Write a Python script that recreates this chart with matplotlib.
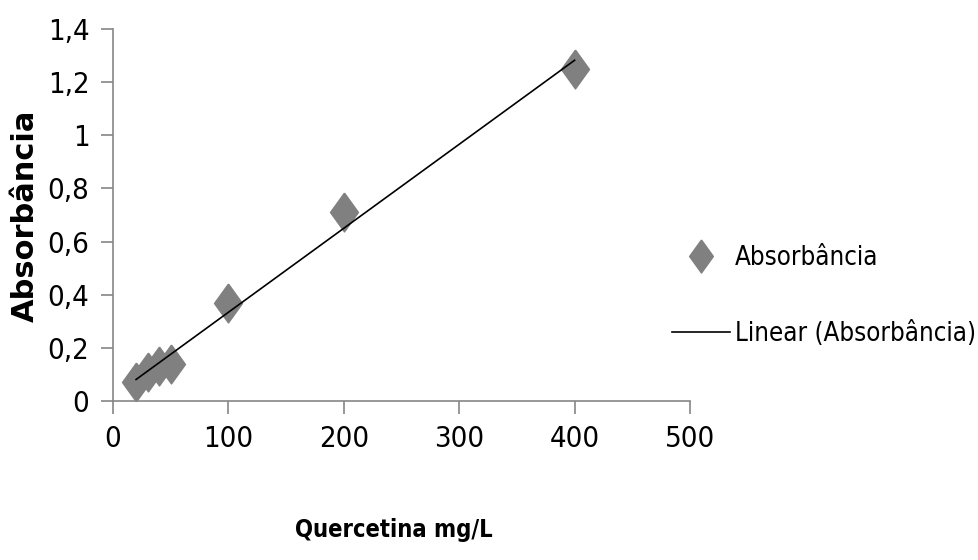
import numpy as np
import matplotlib.pyplot as plt

concentracao = [20, 30, 40, 50, 100, 200, 400]
absorbancia = [0.07, 0.11, 0.13, 0.14, 0.37, 0.71, 1.25]

x_ticks = [0, 100, 200, 300, 400, 500]
y_ticks = [0, 0.2, 0.4, 0.6, 0.8, 1.0, 1.2, 1.4]

plt.rcParams['font.family'] = ['DejaVu Sans']
plt.rcParams['font.stretch'] = 'condensed'

fig = plt.figure(figsize=(9.79, 5.6), dpi=100)
ax = fig.add_axes([0.1154, 0.2839, 0.5894, 0.6643])

losango = [(0, 1), (0.72, 0), (0, -1), (-0.72, 0), (0, 1)]

# linha de tendencia
a, b = np.polyfit(concentracao, absorbancia, 1)
xs = np.array([min(concentracao), max(concentracao)])
ax.plot(concentracao, absorbancia, linestyle='none', marker=losango, markersize=28,
        color='#808080', label='Absorbância', zorder=2)
ax.plot(xs, a * xs + b, color='black', lw=1.2, label='Linear (Absorbância)', zorder=3)

ax.set_xlim(0, 500)
ax.set_ylim(0, 1.4)
ax.set_xticks(x_ticks)
ax.set_yticks(y_ticks)
ax.set_yticklabels([('%g' % v).replace('.', ',') for v in y_ticks])
ax.tick_params(direction='out', length=9, width=1.2, color='#868686',
               labelsize=21, pad=8)

for s in ['top', 'right']:
    ax.spines[s].set_visible(False)
for s in ['left', 'bottom']:
    ax.spines[s].set_color('#868686')
    ax.spines[s].set_linewidth(1.2)

fig.text(0.402, 0.054, 'Quercetina mg/L', ha='center', va='center',
         fontsize=17, fontweight='bold')
fig.text(0.026, 0.614, 'Absorbância', ha='center', va='center', rotation=90,
         fontsize=22, fontweight='bold', stretch='normal')

fig.legend(loc='center left', bbox_to_anchor=(0.6864, 0.472), frameon=False,
           fontsize=18.5, handlelength=2.25, handletextpad=0.2, labelspacing=1.95,
           markerscale=0.85, borderpad=0, borderaxespad=0)

fig.savefig('out.png', dpi=100)
